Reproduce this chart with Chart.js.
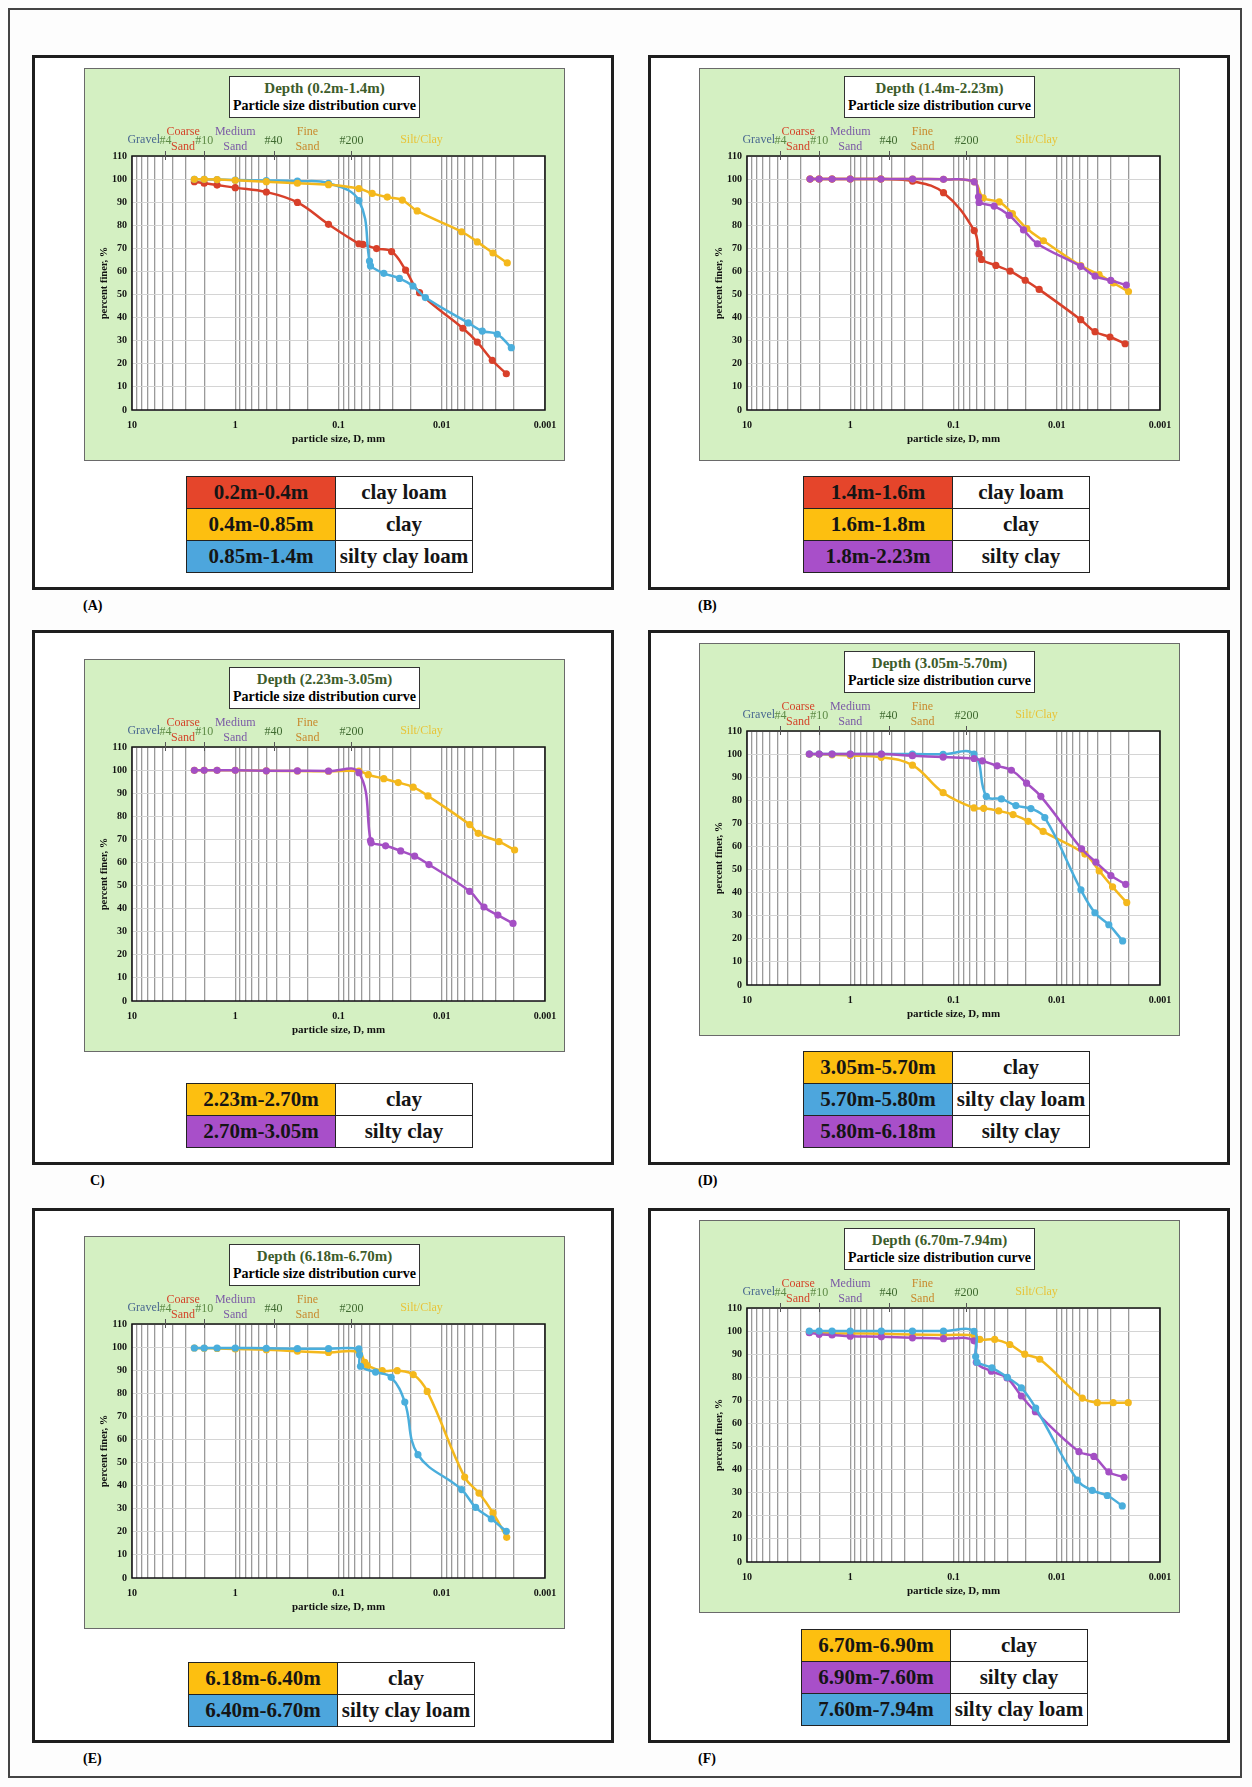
<!DOCTYPE html>
<html>
<head>
<meta charset="utf-8">
<title>Particle size distribution curves</title>
<script src="https://cdn.jsdelivr.net/npm/chart.js@4.4.1/dist/chart.umd.min.js"></script>
<style>
  body { margin: 0; background: #fff; font-family: "Liberation Serif", "Times New Roman", serif; }
  #page { position: relative; width: 1252px; height: 1787px; background: #fdfdfd; }
  #outer { position: absolute; left: 8px; top: 8px; width: 1234px; height: 1770px; border: 2px solid #444; box-sizing: border-box; }
  .panel { position: absolute; width: 582px; height: 535px; border: 3px solid #1e1e1e; box-sizing: border-box; background: #fff; }
  .green { position: absolute; width: 481px; height: 393px; background: #d4f0c2; box-shadow: inset 0 0 0 1px #6a6a6a; }
  .green canvas { position: absolute; left: 0; top: 0; }
  .ttl { position: absolute; left: 145px; top: 8px; width: 191px; height: 42px; box-sizing: border-box;
         background: #fff; border: 1.5px solid #333; text-align: center; font-weight: bold; font-size: 14px; line-height: 18px; padding-top: 2px; }
  .ttl .d { color: #3d5c2a; font-size: 15px; }
  table.lg { position: absolute; border-collapse: collapse; font-weight: bold; font-size: 21px; }
  table.lg td { border: 1.5px solid #222; height: 31px; padding: 0; text-align: center; color: #151515; white-space: nowrap; }
  table.lg td.c { width: 148px; }
  table.lg td.s { width: 136px; background: #fff; }
  .lab { position: absolute; font-weight: bold; font-size: 14px; }
</style>
</head>
<body>
<div id="page"><div id="outer"></div></div>
<script>
// particle size (mm) and percent finer for each sample
// (A) depth 0.2m-1.4m
const sizeA1 = [2.49, 2.0, 1.5, 1.0, 0.5, 0.25, 0.125, 0.0635, 0.058, 0.0428, 0.0306, 0.0224, 0.0164, 0.00624, 0.00453, 0.00324, 0.00237];
const finerA1 = [98.9, 98.2, 97.4, 96.3, 94.4, 89.9, 80.4, 72.0, 71.7, 69.9, 68.6, 60.6, 50.8, 35.4, 29.4, 21.5, 15.7];
const sizeA2 = [2.49, 2.0, 1.5, 1.0, 0.5, 0.25, 0.125, 0.0635, 0.0472, 0.0337, 0.0241, 0.0173, 0.00642, 0.00453, 0.00319, 0.00232];
const finerA2 = [99.9, 99.9, 99.8, 99.5, 98.9, 98.2, 97.6, 95.9, 93.8, 92.2, 90.9, 86.2, 77.2, 72.8, 68.0, 63.7];
const sizeA3 = [2.49, 2.0, 1.5, 1.0, 0.5, 0.25, 0.125, 0.0635, 0.0501, 0.049, 0.0364, 0.0257, 0.019, 0.0144, 0.00553, 0.00405, 0.0029, 0.00212];
const finerA3 = [99.9, 99.9, 99.8, 99.6, 99.4, 99.1, 98.2, 90.7, 64.5, 62.4, 59.2, 57.0, 53.7, 48.7, 37.7, 34.2, 32.8, 27.0];
// (B) depth 1.4m-2.23m
const sizeB1 = [2.45, 2.0, 1.5, 1.0, 0.505, 0.249, 0.125, 0.063, 0.0565, 0.0536, 0.0389, 0.0283, 0.0202, 0.0148, 0.00586, 0.00426, 0.00305, 0.00218];
const finerB1 = [100, 100, 100, 100, 100, 99.1, 94.1, 77.7, 67.7, 65.2, 62.6, 60.1, 56.2, 52.2, 39.1, 33.9, 31.6, 28.7];
const sizeB2 = [2.45, 2.0, 1.5, 1.0, 0.505, 0.249, 0.125, 0.063, 0.0516, 0.0361, 0.0269, 0.0195, 0.01346, 0.00586, 0.00389, 0.00283, 0.00202];
const finerB2 = [100, 100, 100, 100, 100, 100, 99.9, 98.8, 91.9, 90.1, 85.1, 78.6, 73.3, 62.5, 58.6, 55.0, 51.3];
const sizeB3 = [2.45, 2.0, 1.5, 1.0, 0.505, 0.249, 0.125, 0.063, 0.0573, 0.0565, 0.0404, 0.0289, 0.021, 0.0154, 0.00586, 0.00426, 0.003, 0.00212];
const finerB3 = [100, 100, 100, 100, 100, 100, 99.9, 98.8, 92.3, 89.9, 88.3, 84.3, 78.0, 72.0, 62.2, 58.0, 56.1, 54.1];
// (C) depth 2.23m-3.05m
const sizeC1 = [2.49, 2.0, 1.5, 1.0, 0.5, 0.25, 0.125, 0.0635, 0.0515, 0.0364, 0.0264, 0.0189, 0.0136, 0.00537, 0.00443, 0.00279, 0.00197];
const finerC1 = [99.9, 99.9, 99.9, 99.9, 99.7, 99.6, 99.5, 99.6, 98.0, 96.3, 94.6, 92.6, 88.8, 76.4, 72.6, 69.0, 65.4];
const sizeC2 = [2.49, 2.0, 1.5, 1.0, 0.5, 0.25, 0.125, 0.0635, 0.049, 0.0483, 0.035, 0.025, 0.0183, 0.0133, 0.00537, 0.0039, 0.00286, 0.00204];
const finerC2 = [99.9, 99.9, 99.9, 99.9, 99.7, 99.7, 99.6, 98.9, 69.5, 68.5, 67.2, 65.0, 62.7, 59.1, 47.5, 40.7, 37.2, 33.6];
// (D) depth 3.05m-6.18m
const sizeD1 = [2.49, 2.0, 1.5, 1.0, 0.5, 0.25, 0.126, 0.0633, 0.051, 0.0365, 0.0265, 0.0189, 0.01355, 0.00534, 0.00388, 0.00288, 0.0021];
const finerD1 = [99.9, 99.9, 99.7, 99.4, 98.6, 95.2, 83.3, 76.7, 76.5, 75.4, 73.8, 70.9, 66.5, 56.7, 49.4, 42.5, 35.7];
const sizeD2 = [2.49, 2.0, 1.5, 1.0, 0.5, 0.25, 0.126, 0.0633, 0.0481, 0.0344, 0.0249, 0.0178, 0.01305, 0.00583, 0.00427, 0.00313, 0.0023];
const finerD2 = [100, 100, 100, 100, 100, 100, 99.9, 100, 81.7, 80.6, 77.7, 76.4, 72.5, 41.2, 31.3, 26.1, 19.1];
const sizeD3 = [2.49, 2.0, 1.5, 1.0, 0.5, 0.25, 0.126, 0.0633, 0.0525, 0.0378, 0.0275, 0.0196, 0.01426, 0.00575, 0.00418, 0.00299, 0.00215];
const finerD3 = [100, 100, 100, 100, 100, 99.3, 98.7, 98.1, 97.1, 94.9, 93.0, 87.4, 81.7, 59.0, 53.2, 47.4, 43.6];
// (E) depth 6.18m-6.70m
const sizeE1 = [2.49, 2.0, 1.5, 1.0, 0.5, 0.25, 0.125, 0.0635, 0.0556, 0.0527, 0.0377, 0.027, 0.0189, 0.01383, 0.006, 0.00436, 0.00319, 0.00235];
const finerE1 = [99.6, 99.5, 99.4, 99.2, 98.9, 98.2, 97.7, 97.9, 93.4, 92.0, 89.8, 89.8, 88.1, 80.8, 43.7, 36.8, 28.2, 17.6];
const sizeE2 = [2.49, 2.0, 1.5, 1.0, 0.5, 0.25, 0.125, 0.0635, 0.0625, 0.0612, 0.0438, 0.0309, 0.0228, 0.017, 0.00642, 0.0047, 0.00331, 0.00237];
const finerE2 = [99.6, 99.6, 99.6, 99.6, 99.5, 99.3, 99.3, 99.2, 96.7, 91.7, 89.2, 86.9, 76.2, 53.4, 38.3, 30.6, 25.6, 20.2];
// (F) depth 6.70m-7.94m
const sizeF1 = [2.49, 2.0, 1.5, 1.0, 0.5, 0.25, 0.125, 0.0633, 0.0557, 0.0399, 0.0285, 0.0204, 0.0146, 0.00566, 0.00405, 0.00284, 0.00203];
const finerF1 = [99.5, 99.3, 99.0, 99.0, 98.8, 98.5, 98.3, 98.2, 96.4, 96.4, 94.2, 90.0, 87.8, 71.0, 69.0, 69.0, 69.0];
const sizeF2 = [2.49, 2.0, 1.5, 1.0, 0.5, 0.25, 0.125, 0.0633, 0.0601, 0.043, 0.0303, 0.022, 0.0161, 0.0061, 0.00437, 0.00313, 0.00223];
const finerF2 = [99.3, 98.6, 98.3, 97.8, 97.5, 97.1, 96.7, 95.8, 86.5, 82.6, 79.7, 71.9, 65.1, 47.8, 45.7, 39.0, 36.7];
const sizeF3 = [2.49, 2.0, 1.5, 1.0, 0.5, 0.25, 0.125, 0.0633, 0.061, 0.0592, 0.0424, 0.0301, 0.022, 0.016, 0.00634, 0.00453, 0.00324, 0.00232];
const finerF3 = [100, 100, 100, 100, 100, 100, 100, 99.9, 89.0, 86.5, 84.1, 80.0, 75.4, 66.7, 35.5, 31.0, 28.8, 24.3];

// legend text
const depthsA = ['0.2m-0.4m', '0.4m-0.85m', '0.85m-1.4m'];
const soilsA = ['clay loam', 'clay', 'silty clay loam'];
const depthsB = ['1.4m-1.6m', '1.6m-1.8m', '1.8m-2.23m'];
const soilsB = ['clay loam', 'clay', 'silty clay'];
const depthsC = ['2.23m-2.70m', '2.70m-3.05m'];
const soilsC = ['clay', 'silty clay'];
const depthsD = ['3.05m-5.70m', '5.70m-5.80m', '5.80m-6.18m'];
const soilsD = ['clay', 'silty clay loam', 'silty clay'];
const depthsE = ['6.18m-6.40m', '6.40m-6.70m'];
const soilsE = ['clay', 'silty clay loam'];
const depthsF = ['6.70m-6.90m', '6.90m-7.60m', '7.60m-7.94m'];
const soilsF = ['clay', 'silty clay', 'silty clay loam'];

// axis ticks
const xTickLabels = [10, 1, 0.1, 0.01, 0.001];
const yTicks = [0, 10, 20, 30, 40, 50, 60, 70, 80, 90, 100, 110];

// sieve numbers and soil classes along the top
const sieveNames = ['#4', '#10', '#40', '#200'];
const sieveSizes = [4.75, 2.0, 0.425, 0.075];
const zoneNames = ['Gravel', 'Coarse\nSand', 'Medium\nSand', 'Fine\nSand', 'Silt/Clay'];
const zoneAt = [7.7, 3.2, 1.0, 0.2, 0.0157];
const zoneColors = ['#4a6890', '#d4452a', '#7b5aa6', '#c98a2e', '#e8c43a'];

const RED = '#d8402a', YEL = '#f4b81c', BLU = '#4aaedc', PUR = '#a44fc4';
const CELL = { [RED]: '#e5452b', [YEL]: '#fdbf10', [BLU]: '#4da6dd', [PUR]: '#a84fc9' };

// top: index of the curve drawn above the others
const panels = [
  { tag: '(A)', title: 'Depth (0.2m-1.4m)', frame: [32, 55], green: [84, 68], table: [186, 476], lab: [83, 598], top: 1,
    series: [[sizeA1, finerA1, RED], [sizeA2, finerA2, YEL], [sizeA3, finerA3, BLU]], depths: depthsA, soils: soilsA },
  { tag: '(B)', title: 'Depth (1.4m-2.23m)', frame: [648, 55], green: [699, 68], table: [803, 476], lab: [698, 598], top: 2,
    series: [[sizeB1, finerB1, RED], [sizeB2, finerB2, YEL], [sizeB3, finerB3, PUR]], depths: depthsB, soils: soilsB },
  { tag: 'C)', title: 'Depth (2.23m-3.05m)', frame: [32, 630], green: [84, 659], table: [186, 1083], lab: [90, 1173], top: 1,
    series: [[sizeC1, finerC1, YEL], [sizeC2, finerC2, PUR]], depths: depthsC, soils: soilsC },
  { tag: '(D)', title: 'Depth (3.05m-5.70m)', frame: [648, 630], green: [699, 643], table: [803, 1051], lab: [698, 1173], top: 2,
    series: [[sizeD1, finerD1, YEL], [sizeD2, finerD2, BLU], [sizeD3, finerD3, PUR]], depths: depthsD, soils: soilsD },
  { tag: '(E)', title: 'Depth (6.18m-6.70m)', frame: [32, 1208], green: [84, 1236], table: [188, 1662], lab: [83, 1751], top: 1,
    series: [[sizeE1, finerE1, YEL], [sizeE2, finerE2, BLU]], depths: depthsE, soils: soilsE },
  { tag: '(F)', title: 'Depth (6.70m-7.94m)', frame: [648, 1208], green: [699, 1220], table: [801, 1629], lab: [698, 1751], top: 2,
    series: [[sizeF1, finerF1, YEL], [sizeF2, finerF2, PUR], [sizeF3, finerF3, BLU]], depths: depthsF, soils: soilsF }
];

Chart.defaults.font.family = '"Liberation Serif", "Times New Roman", serif';
Chart.defaults.color = '#111';

// every 1..9 x 10^k between the axis limits gets a vertical grid line
function logGrid() {
  const out = [];
  for (let k = -3; k <= 0; k++) {
    for (let m = 1; m <= 9; m++) out.push(Number((m * Math.pow(10, k)).toPrecision(3)));
  }
  out.push(10);
  return out;
}
const isDecade = v => Math.abs(Math.log10(v) - Math.round(Math.log10(v))) < 1e-9;

const plotDecor = {
  id: 'plotDecor',
  beforeDraw(chart) {
    const a = chart.chartArea, ctx = chart.ctx;
    ctx.save();
    ctx.fillStyle = '#fff';
    ctx.fillRect(a.left, a.top, a.right - a.left, a.bottom - a.top);
    ctx.restore();
  },
  beforeDatasetsDraw(chart) {
    const a = chart.chartArea, ctx = chart.ctx;
    ctx.save();
    ctx.strokeStyle = '#111';
    ctx.lineWidth = 1.5;
    ctx.strokeRect(a.left, a.top, a.right - a.left, a.bottom - a.top);
    ctx.restore();
  },
  afterDraw(chart) {
    const a = chart.chartArea, ctx = chart.ctx, xs = chart.scales.x;
    ctx.save();
    ctx.strokeStyle = '#555';
    ctx.lineWidth = 1;
    ctx.font = '12px "Liberation Serif"';
    ctx.textAlign = 'center';
    ctx.textBaseline = 'middle';
    sieveSizes.forEach((s, i) => {
      const x = Math.round(xs.getPixelForValue(s)) + 0.5;
      ctx.beginPath();
      ctx.moveTo(x, a.top - 5);
      ctx.lineTo(x, a.top + 4);
      ctx.stroke();
      ctx.fillStyle = i < 2 ? '#5d8a45' : '#3f6a30';
      ctx.fillText(sieveNames[i], xs.getPixelForValue(s), a.top - 15);
    });
    zoneNames.forEach((z, i) => {
      const x = xs.getPixelForValue(zoneAt[i]);
      const lines = z.split('\n');
      ctx.fillStyle = zoneColors[i];
      if (lines.length === 1) {
        ctx.fillText(lines[0], x, a.top - 16);
      } else {
        ctx.fillText(lines[0], x, a.top - 24);
        ctx.fillText(lines[1], x, a.top - 9);
      }
    });
    ctx.restore();
  }
};

function drawPanel(p) {
  const page = document.getElementById('page');

  const frame = document.createElement('div');
  frame.className = 'panel';
  frame.style.left = p.frame[0] + 'px';
  frame.style.top = p.frame[1] + 'px';
  page.appendChild(frame);

  const green = document.createElement('div');
  green.className = 'green';
  green.style.left = p.green[0] + 'px';
  green.style.top = p.green[1] + 'px';
  page.appendChild(green);

  const canvas = document.createElement('canvas');
  canvas.width = 481;
  canvas.height = 393;
  green.appendChild(canvas);

  const ttl = document.createElement('div');
  ttl.className = 'ttl';
  ttl.innerHTML = '<div class="d">' + p.title + '</div><div>Particle size distribution curve</div>';
  green.appendChild(ttl);

  const table = document.createElement('table');
  table.className = 'lg';
  table.style.left = p.table[0] + 'px';
  table.style.top = p.table[1] + 'px';
  p.depths.forEach((d, i) => {
    const tr = document.createElement('tr');
    tr.innerHTML = '<td class="c" style="background:' + CELL[p.series[i][2]] + '">' + d + '</td><td class="s">' + p.soils[i] + '</td>';
    table.appendChild(tr);
  });
  page.appendChild(table);

  const lab = document.createElement('div');
  lab.className = 'lab';
  lab.style.left = p.lab[0] + 'px';
  lab.style.top = p.lab[1] + 'px';
  lab.textContent = p.tag;
  page.appendChild(lab);

  new Chart(canvas, {
    type: 'line',
    data: {
      datasets: p.series.map((s, i) => ({
        label: p.depths[i],
        data: s[0].map((d, j) => ({ x: d, y: s[1][j] })),
        order: i === p.top ? -10 : -i,
        borderColor: s[2],
        backgroundColor: s[2],
        borderWidth: 2.5,
        pointRadius: 3.6,
        pointBorderWidth: 0,
        tension: 0.4,
        fill: false
      }))
    },
    options: {
      responsive: false,
      animation: false,
      layout: { padding: { left: 10, top: 88, right: 20, bottom: 11 } },
      plugins: { legend: { display: false }, tooltip: { enabled: false } },
      scales: {
        x: {
          type: 'logarithmic',
          reverse: true,
          min: 0.001,
          max: 10,
          afterBuildTicks: sc => { sc.ticks = logGrid().map(v => ({ value: v })); },
          afterFit: sc => { sc.height = 40; },
          grid: { color: '#9a9a9a', lineWidth: 1.3, drawTicks: false },
          border: { display: false },
          ticks: {
            autoSkip: false, maxRotation: 0, padding: 9,
            font: { size: 10, weight: 'bold' },
            callback: v => (isDecade(v) && xTickLabels.includes(Number(v.toPrecision(3)))) ? String(Number(v.toPrecision(3))) : ''
          },
          title: { display: true, text: 'particle size, D, mm', font: { size: 11, weight: 'bold' } }
        },
        y: {
          min: 0,
          max: 110,
          afterBuildTicks: sc => { sc.ticks = yTicks.map(v => ({ value: v })); },
          afterFit: sc => { sc.width = 38; },
          grid: { color: '#d4d4d4', lineWidth: 1, drawTicks: false },
          border: { display: false },
          ticks: { padding: 5, font: { size: 10, weight: 'bold' } },
          title: { display: true, text: 'percent finer, %', font: { size: 10.5, weight: 'bold' } }
        }
      }
    },
    plugins: [plotDecor]
  });
}

panels.forEach(drawPanel);
</script>
</body>
</html>
